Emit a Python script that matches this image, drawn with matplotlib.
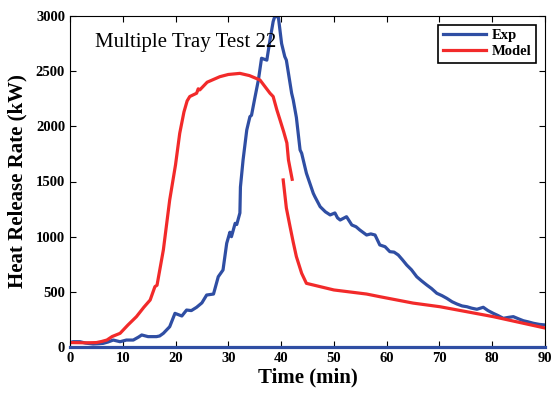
import numpy as np
import matplotlib
matplotlib.use('Agg')
import matplotlib.pyplot as plt

matplotlib.rcParams['font.family'] = 'Liberation Serif'

# 实验数据 (Exp)
exp_t = [0, 0.6, 1.9, 3.0, 4.4, 5.5, 6.3, 7.2, 8.2, 9.5, 10.7, 12.0, 13.0, 13.6, 14.8, 16.4, 17.0,
         17.7, 18.9, 19.9, 21.2, 22.1, 23.0, 24.0, 25.0, 25.9, 27.2, 28.1, 29.0, 29.7, 30.3, 30.6,
         31.3, 31.6, 32.2, 32.3, 32.8, 33.5, 34.1, 34.4, 35.0, 35.7, 36.3, 37.3, 37.9, 38.5, 38.8,
         39.2, 39.5, 40.1, 40.7, 41.0, 42.0, 42.3, 42.9, 43.6, 43.9, 44.5, 44.8, 46.1, 46.4, 47.4,
         48.4, 49.3, 50.2, 50.7, 51.2, 52.4, 53.4, 54.2, 54.9, 56.2, 57.0, 57.8, 58.7, 59.7, 60.6,
         61.4, 62.2, 63.0, 63.8, 64.7, 65.7, 66.6, 67.6, 68.5, 69.5, 70.5, 71.4, 72.4, 73.3, 74.3,
         75.2, 76.1, 77.1, 78.3, 79.2, 80.2, 81.1, 82.1, 83.0, 84.0, 85.0, 85.9, 86.8, 87.8, 88.9, 90.0]
exp_q = [40, 48, 48, 35, 27, 30, 33, 45, 63, 48, 63, 63, 90, 109, 94, 94, 100,
         124, 184, 305, 281, 335, 330, 360, 400, 471, 480, 637, 698, 940, 1040, 1000,
         1121, 1110, 1215, 1450, 1695, 1967, 2088, 2100, 2250, 2420, 2617, 2600, 2783, 2950, 2995,
         2995, 2985, 2750, 2632, 2600, 2300, 2240, 2080, 1786, 1756, 1635, 1575, 1393, 1363, 1272,
         1225, 1197, 1215, 1170, 1151, 1181, 1106, 1090, 1061, 1015, 1025, 1015, 925, 909, 864,
         860, 834, 790, 743, 700, 637, 600, 562, 530, 487, 465, 441, 410, 390, 372,
         365, 352, 342, 360, 330, 305, 285, 260, 268, 275, 255, 238, 228, 215, 205, 200]

# 模型第一段
model_t1 = [0, 3, 5, 6, 7.0, 8, 9.5, 11, 12.6, 14, 15.2, 16.1, 16.5, 17.7, 18.9, 20.0, 20.8,
            21.6, 22.2, 22.7, 24.0, 24.3, 24.6, 26, 28.4, 30, 32.2, 34, 36.0, 37.9, 38.5, 39.2,
            39.8, 40.5, 41.1, 41.4, 42.1]
model_q1 = [40, 38, 40, 50, 63, 95, 124, 200, 275, 360, 426, 547, 560, 880, 1333, 1650, 1937,
            2130, 2230, 2270, 2300, 2340, 2330, 2400, 2450, 2470, 2480, 2460, 2420, 2300, 2270, 2149,
            2058, 1950, 1849, 1695, 1520]
# 模型第二段
model_t2 = [40.4, 41.0, 41.7, 42.3, 42.9, 43.9, 44.8, 50.0, 56.2, 58.7, 65.0, 70.1, 80.2, 90.0]
model_q2 = [1514, 1260, 1091, 950, 819, 668, 577, 517, 480, 456, 398, 365, 275, 172]

blue = '#2f4ea3'
red = '#f22a2a'

fig = plt.figure(figsize=(5.55, 4.0), dpi=100)
ax = fig.add_axes([0.126, 0.1325, 0.856, 0.8275])

ax.plot(exp_t, exp_q, color=blue, lw=2.3, label='Exp')
ax.plot(model_t1, model_q1, color=red, lw=2.3, label='Model')
ax.plot(model_t2, model_q2, color=red, lw=2.3)

ax.set_xlim(0, 90)
ax.set_ylim(0, 3000)
ax.set_xticks(np.arange(0, 91, 10))
ax.set_yticks(np.arange(0, 3001, 500))
ax.tick_params(direction='in', top=True, right=True, length=4, labelsize=10.5)
for lab in ax.get_xticklabels() + ax.get_yticklabels():
    lab.set_fontweight('bold')
ax.spines['bottom'].set_color(blue)
ax.spines['bottom'].set_linewidth(2.3)

ax.set_xlabel('Time (min)', fontsize=15, fontweight='bold', labelpad=2)
ax.set_ylabel('Heat Release Rate (kW)', fontsize=15, fontweight='bold', labelpad=6)
ax.text(0.053, 0.905, 'Multiple Tray Test 22', transform=ax.transAxes, fontsize=15)

leg = ax.legend(loc='upper right', fancybox=False, framealpha=1,
                edgecolor='black', handlelength=3.0, borderpad=0.3, labelspacing=0.2,
                handletextpad=0.4, borderaxespad=0.6,
                prop={'weight': 'bold', 'size': 10.5})
leg.get_frame().set_linewidth(1.2)

fig.savefig('out.png', dpi=100)
